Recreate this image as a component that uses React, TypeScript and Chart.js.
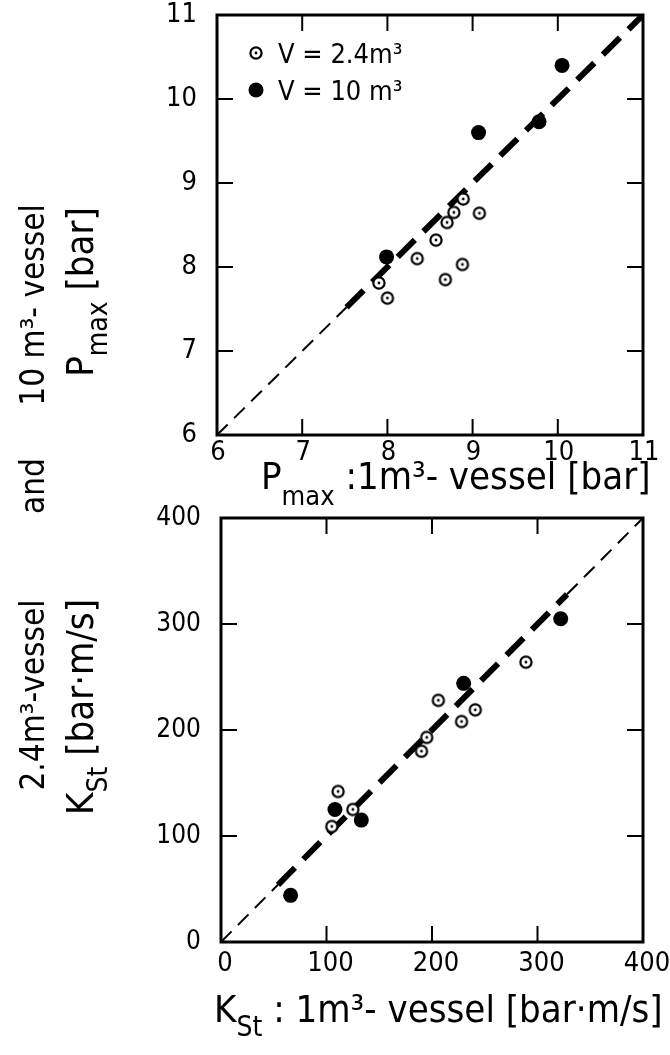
import React, { useEffect, useRef } from "react";
import { Chart, registerables } from "chart.js";
Chart.register(...registerables);

const W = 670;
const H = 1055;
const FONT = '"DejaVu Sans Condensed", "Liberation Sans Narrow", "DejaVu Sans", sans-serif';
const TICK_FONT = '"DejaVu Sans Condensed", "Liberation Sans Narrow", sans-serif';

// ---- Top panel: Pmax ----
const pMin = 6;
const pMax = 11;
const pStep = 1;
const pOpenX = [7.9, 8.0, 8.35, 8.57, 8.68, 8.7, 8.78, 8.88, 8.89, 9.08];
const pOpenY = [7.81, 7.63, 8.1, 8.32, 7.85, 8.53, 8.65, 8.03, 8.81, 8.64];
const pFullX = [7.99, 9.07, 9.78, 10.05];
const pFullY = [8.12, 9.6, 9.73, 10.4];
const pDiagThin = [6, 7.52];
const pDiagThick = [7.52, 11];

// ---- Bottom panel: KSt ----
const kMin = 0;
const kMax = 400;
const kStep = 100;
const kOpenX = [105, 111, 125, 190, 195, 206, 228, 241, 289];
const kOpenY = [109, 142, 125, 180, 193, 228, 208, 219, 264];
const kFullX = [66, 108, 133, 230, 322];
const kFullY = [44, 125, 115, 244, 305];
const kDiagThinLow = [0, 54];
const kDiagThick = [54, 328];
const kDiagThinHigh = [328, 400];

const legendLabels = ["V = 2.4m³", "V = 10 m³"];

type Part = { t: string; s: number; dy?: number };

function drawRich(ctx: CanvasRenderingContext2D, parts: Part[], x: number, y: number, align: "left" | "center", rot = 0) {
  ctx.save();
  ctx.translate(x, y);
  if (rot) ctx.rotate(rot);
  let total = 0;
  const widths = parts.map((p) => {
    ctx.font = `${p.s}px ${FONT}`;
    const w = ctx.measureText(p.t).width;
    total += w;
    return w;
  });
  let cx = align === "center" ? -total / 2 : 0;
  ctx.textBaseline = "alphabetic";
  ctx.textAlign = "left";
  ctx.fillStyle = "#000";
  parts.forEach((p, i) => {
    ctx.font = `${p.s}px ${FONT}`;
    ctx.fillText(p.t, cx, p.dy || 0);
    cx += widths[i];
  });
  ctx.restore();
}

function openMarker(): HTMLCanvasElement {
  const c = document.createElement("canvas");
  c.width = 16;
  c.height = 16;
  const g = c.getContext("2d")!;
  g.beginPath();
  g.arc(8, 8, 5.6, 0, Math.PI * 2);
  g.fillStyle = "#fff";
  g.fill();
  g.lineWidth = 2.2;
  g.strokeStyle = "#000";
  g.stroke();
  g.beginPath();
  g.arc(8, 8, 1.4, 0, Math.PI * 2);
  g.fillStyle = "#000";
  g.fill();
  return c;
}

function zip(xs: number[], ys: number[]) {
  return xs.map((x, i) => ({ x, y: ys[i] }));
}
function diag(seg: number[]) {
  return seg.map((v) => ({ x: v, y: v }));
}

type Box = { left: number; right: number; top: number; bottom: number };

function framePlugin(id: string, extra: (ctx: CanvasRenderingContext2D, chart: any) => void) {
  return {
    id,
    afterDraw(chart: any) {
      const ctx: CanvasRenderingContext2D = chart.ctx;
      const a = chart.chartArea;
      const xs = chart.scales.x;
      const ys = chart.scales.y;
      ctx.save();
      ctx.strokeStyle = "#000";
      ctx.lineWidth = 3;
      ctx.strokeRect(a.left, a.top, a.right - a.left, a.bottom - a.top);
      ctx.lineWidth = 2;
      const tl = 16;
      ctx.beginPath();
      xs.ticks.forEach((t: any) => {
        const px = xs.getPixelForValue(t.value);
        if (Math.abs(px - a.left) < 2 || Math.abs(px - a.right) < 2) return;
        ctx.moveTo(px, a.bottom);
        ctx.lineTo(px, a.bottom - tl);
        ctx.moveTo(px, a.top);
        ctx.lineTo(px, a.top + tl);
      });
      ys.ticks.forEach((t: any) => {
        const py = ys.getPixelForValue(t.value);
        if (Math.abs(py - a.top) < 2 || Math.abs(py - a.bottom) < 2) return;
        ctx.moveTo(a.left, py);
        ctx.lineTo(a.left + tl, py);
        ctx.moveTo(a.right, py);
        ctx.lineTo(a.right - tl, py);
      });
      ctx.stroke();
      ctx.restore();
      extra(ctx, chart);
    },
  };
}

function makeConfig(
  box: Box,
  min: number,
  max: number,
  step: number,
  open: any[],
  full: any[],
  lines: { seg: number[]; thick: boolean }[],
  marker: HTMLCanvasElement,
  plugin: any,
  xFont: number,
  yFont: number,
  xLabelOffset: number,
  xPad: number
) {
  const lineSets = lines.map((l) => ({
    type: "line",
    data: diag(l.seg),
    showLine: true,
    borderColor: "#000",
    borderWidth: l.thick ? 6 : 2,
    borderDash: l.thick ? [24, 12] : [15, 9],
    borderCapStyle: "butt",
    pointRadius: 0,
    fill: false,
  }));
  return {
    type: "scatter",
    data: {
      datasets: [
        { label: legendLabels[0], data: open, pointStyle: marker, pointRadius: 8 },
        { label: legendLabels[1], data: full, pointStyle: "circle", pointRadius: 7.5, backgroundColor: "#000", borderColor: "#000", borderWidth: 0 },
        ...lineSets,
      ],
    },
    options: {
      responsive: false,
      animation: false,
      devicePixelRatio: 1,
      layout: { padding: { left: 0, top: box.top, right: W - box.right, bottom: 0 } },
      plugins: { legend: { display: false }, tooltip: { enabled: false }, title: { display: false } },
      scales: {
        x: {
          type: "linear",
          min,
          max,
          afterFit: (s: any) => {
            s.height = H - box.bottom;
            s.paddingLeft = 0;
            s.paddingRight = 0;
          },
          grid: { display: false, drawTicks: false },
          border: { display: false },
          ticks: { stepSize: step, autoSkip: false, maxRotation: 0, padding: xPad, labelOffset: xLabelOffset, color: "#000", font: { family: TICK_FONT, size: xFont } },
        },
        y: {
          type: "linear",
          min,
          max,
          afterFit: (s: any) => {
            s.width = box.left;
            s.paddingTop = 0;
            s.paddingBottom = 0;
          },
          grid: { display: false, drawTicks: false },
          border: { display: false },
          ticks: { stepSize: step, autoSkip: false, padding: 20, color: "#000", font: { family: TICK_FONT, size: yFont } },
        },
      },
    },
    plugins: [plugin],
  };
}

export default function App() {
  const topRef = useRef<HTMLCanvasElement>(null);
  const botRef = useRef<HTMLCanvasElement>(null);

  useEffect(() => {
    document.body.style.margin = "0";
    const marker = openMarker();
    const topBox: Box = { left: 217, right: 643, top: 15, bottom: 435 };
    const botBox: Box = { left: 221, right: 643, top: 518, bottom: 942 };
    const R = -Math.PI / 2;

    const topExtra = (ctx: CanvasRenderingContext2D, chart: any) => {
      // legend
      const lx = 256;
      ctx.drawImage(marker, lx - 8, 53 - 8, 16, 16);
      ctx.beginPath();
      ctx.arc(lx, 90, 7.5, 0, Math.PI * 2);
      ctx.fillStyle = "#000";
      ctx.fill();
      drawRich(ctx, [{ t: legendLabels[0], s: 27 }], 278, 63, "left");
      drawRich(ctx, [{ t: legendLabels[1], s: 27 }], 278, 100, "left");
      // x title
      drawRich(
        ctx,
        [
          { t: "P", s: 38 },
          { t: "max", s: 27, dy: 16 },
          { t: " :1m³- vessel [bar]", s: 38 },
        ],
        261,
        489,
        "left"
      );
      // y title, column 2
      drawRich(
        ctx,
        [
          { t: "P", s: 38 },
          { t: "max", s: 28, dy: 14 },
          { t: " [bar]", s: 38 },
        ],
        93,
        292,
        "center",
        R
      );
      // y title, column 1 (upper part)
      drawRich(ctx, [{ t: "10 m³- vessel", s: 33 }], 44, 305, "center", R);
    };

    const botExtra = (ctx: CanvasRenderingContext2D, chart: any) => {
      drawRich(
        ctx,
        [
          { t: "K", s: 38 },
          { t: "St", s: 28, dy: 14 },
          { t: " : 1m³- vessel [bar·m/s]", s: 38 },
        ],
        214,
        1022,
        "left"
      );
      drawRich(
        ctx,
        [
          { t: "K", s: 38 },
          { t: "St", s: 28, dy: 14 },
          { t: " [bar·m/s]", s: 38 },
        ],
        93,
        707,
        "center",
        R
      );
      drawRich(ctx, [{ t: "and", s: 33 }], 44, 486, "center", R);
      drawRich(ctx, [{ t: "2.4m³-vessel", s: 33 }], 44, 695, "center", R);
    };

    const topChart = new Chart(
      topRef.current!,
      makeConfig(
        topBox,
        pMin,
        pMax,
        pStep,
        zip(pOpenX, pOpenY),
        zip(pFullX, pFullY),
        [
          { seg: pDiagThin, thick: false },
          { seg: pDiagThick, thick: true },
        ],
        marker,
        framePlugin("frameTop", topExtra),
        27,
        27,
        1,
        2
      ) as any
    );
    const botChart = new Chart(
      botRef.current!,
      makeConfig(
        botBox,
        kMin,
        kMax,
        kStep,
        zip(kOpenX, kOpenY),
        zip(kFullX, kFullY),
        [
          { seg: kDiagThinLow, thick: false },
          { seg: kDiagThick, thick: true },
          { seg: kDiagThinHigh, thick: false },
        ],
        marker,
        framePlugin("frameBot", botExtra),
        27,
        26,
        4,
        6
      ) as any
    );
    return () => {
      topChart.destroy();
      botChart.destroy();
    };
  }, []);

  const cs: React.CSSProperties = { position: "absolute", left: 0, top: 0 };
  return (
    <div style={{ position: "absolute", left: 0, top: 0, width: W, height: H, background: "#fff" }}>
      <canvas ref={topRef} width={W} height={H} style={cs} />
      <canvas ref={botRef} width={W} height={H} style={cs} />
    </div>
  );
}
